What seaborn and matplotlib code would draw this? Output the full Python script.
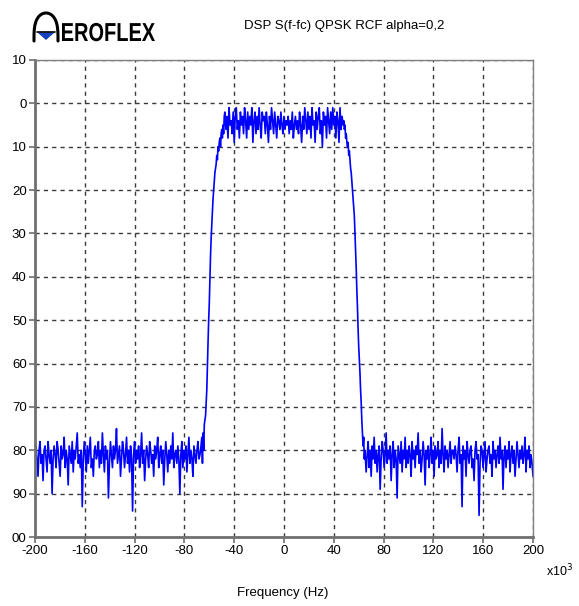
import numpy as np
import pandas as pd
import matplotlib
matplotlib.use("Agg")
import matplotlib.pyplot as plt
from matplotlib.lines import Line2D
from matplotlib.patches import Polygon, PathPatch
from matplotlib.textpath import TextPath
from matplotlib.font_manager import FontProperties
from matplotlib.transforms import Affine2D
import seaborn as sns

# ---------------- data (dB levels) ----------------
title = "DSP S(f-fc) QPSK RCF alpha=0,2"
x_ticks = [-200, -160, -120, -80, -40, 0, 40, 80, 120, 160, 200]
y_ticks = [10, 0, -10, -20, -30, -40, -50, -60, -70, -80, -90, -100]
y_tick_labels = ["10", "0", "10", "20", "30", "40", "50", "60", "70", "80", "90", "00"]

floor_left_range = (-200, -67.5)
floor_left_db = [
    -84, -79, -82, -86, -80, -78, -83, -81, -87, -80, -79, -82, -85, -78, -81, -83, -80, -90, -82, -79,
    -81, -84, -78, -80, -83, -86, -79, -82, -81, -77, -84, -80, -82, -88, -79, -81, -83, -78, -85, -80,
    -82, -79, -76, -83, -81, -84, -80, -93, -82, -78, -81, -85, -79, -83, -80, -77, -84, -82, -86, -80,
    -79, -82, -81, -78, -84, -80, -83, -76, -81, -85, -79, -82, -80, -91, -83, -78, -81, -84, -79, -82,
    -80, -75, -83, -81, -79, -86, -82, -78, -80, -84, -81, -77, -83, -80, -85, -79, -82, -94, -81, -78,
    -83, -80, -82, -79, -84, -81, -76, -83, -80, -87, -82, -79, -81, -84, -78, -80, -83, -81, -86, -79,
    -82, -80, -77, -84, -81, -79, -83, -80, -88, -82, -78, -81, -85, -80, -83, -79, -82, -76, -84, -81,
    -80, -83, -79, -82, -90, -81, -78, -84, -80, -82, -79, -85, -81, -77, -83, -80, -82, -86, -79, -81,
    -83, -80, -78, -82, -81,
]

rise_f = [-67, -66, -65.5, -65, -64.5, -64, -63, -62, -61.5, -61, -60.5, -60, -59.5, -59, -58.5, -58,
          -57.5, -57, -56.5, -56, -55.5, -55, -54.5, -54, -53.5, -53, -52.5, -52, -51.5, -51, -50.5,
          -50, -49.5, -49, -48.5, -48]
rise_db = [-80, -77, -83, -76, -80, -74, -72, -66, -60, -55, -50, -46, -40, -35, -31, -28, -25, -22,
           -20, -18, -16, -15, -14, -12, -13, -10, -11, -9, -8, -10, -7, -6, -8, -5, -7, -3]

pass_range = (-47.5, 47.5)
pass_db = [
    -2, -6, -3, -8, -1, -5, -4, -7, -2, -9, -3, -1, -6, -4, -8, -2, -5, -3, -7, -1,
    -4, -8, -2, -6, -3, -5, -1, -9, -4, -2, -7, -3, -6, -1, -5, -8, -2, -4, -3, -7,
    -2, -5, -9, -3, -6, -1, -4, -7, -2, -5, -8, -3, -4, -6, -2, -5, -7, -3, -6, -4,
    -5, -3, -7, -4, -6, -2, -8, -5, -3, -6, -4, -7, -2, -5, -9, -3, -6, -1, -4, -7,
    -2, -6, -3, -8, -1, -5, -4, -9, -2, -6, -3, -1, -7, -4, -10, -2, -5, -3, -8, -1,
    -4, -7, -2, -6, -1, -5, -3, -8, -2, -4, -9, -1, -6, -3, -5,
]

fall_f = [48, 48.5, 49, 49.5, 50, 50.5, 51, 51.5, 52, 52.5, 53, 53.5, 54, 54.5, 55, 55.5, 56, 56.5,
          57, 57.5, 58, 58.5, 59, 59.5, 60, 60.5, 61, 61.5, 62, 62.5, 63, 63.5, 64, 64.5, 65, 66]
fall_db = [-4, -6, -5, -8, -7, -9, -10, -9, -12, -11, -13, -15, -16, -18, -20, -22, -24, -26, -30,
           -34, -38, -43, -47, -52, -56, -59, -62, -66, -69, -73, -76, -79, -77, -82, -80, -85]

floor_right_range = (66.8, 200)
floor_right_db = [
    -81, -78, -84, -80, -86, -79, -82, -77, -83, -80, -85, -81, -79, -89, -82, -78, -80, -84, -81, -76,
    -83, -80, -82, -79, -87, -81, -78, -84, -80, -82, -91, -79, -81, -83, -78, -85, -80, -82, -77, -84,
    -80, -83, -79, -81, -86, -78, -82, -80, -84, -79, -81, -76, -83, -80, -85, -82, -78, -81, -88, -80,
    -82, -79, -84, -81, -77, -83, -80, -86, -79, -82, -81, -78, -84, -80, -83, -75, -81, -85, -79, -82,
    -80, -84, -81, -78, -83, -80, -80, -82, -79, -81, -85, -80, -77, -83, -81, -93, -79, -82, -80, -86,
    -78, -81, -83, -80, -79, -84, -82, -87, -80, -78, -82, -81, -95, -83, -79, -80, -84, -81, -78, -85,
    -82, -80, -79, -83, -81, -86, -78, -82, -80, -84, -81, -79, -83, -77, -82, -80, -89, -81, -79, -84,
    -80, -82, -78, -85, -81, -79, -83, -80, -86, -82, -78, -81, -84, -80, -82, -79, -83, -81, -77, -85,
    -80, -82, -79, -84, -81, -83, -86,
]

# ---------------- assemble ----------------
freq = np.concatenate([
    np.linspace(*floor_left_range, len(floor_left_db)),
    rise_f,
    np.linspace(*pass_range, len(pass_db)),
    fall_f,
    np.linspace(*floor_right_range, len(floor_right_db)),
])
level = np.concatenate([floor_left_db, rise_db, pass_db, fall_db, floor_right_db])
df = pd.DataFrame({"freq": freq, "level": level})

# ---------------- figure ----------------
W, H = 579, 606
sns.set_style("white")
plt.rcParams['font.family'] = ['Liberation Sans', 'DejaVu Sans']
fig = plt.figure(figsize=(W / 100, H / 100), dpi=100)
fig.patch.set_facecolor("white")

def fx(px):
    return px / W

def fy(py):
    return 1 - py / H

ax = fig.add_axes([fx(35), fy(537), fx(533) - fx(35), fy(60) - fy(537)])

sns.lineplot(data=df, x="freq", y="level", ax=ax, color="#0000FF", linewidth=1.2,
             estimator=None, sort=False)

ax.set_xlim(-200, 200)
ax.set_ylim(-100, 10)
ax.set_xticks(x_ticks)
ax.set_xticklabels([str(v) for v in x_ticks])
ax.set_yticks(y_ticks)
ax.set_yticklabels(y_tick_labels)
ax.set_xlabel("")
ax.set_ylabel("")

ax.grid(True, color="#3a3a3a", linestyle=(0, (3, 3)), linewidth=1.0)
ax.set_axisbelow(True)

for s in ["left", "bottom"]:
    ax.spines[s].set_color("#707070")
    ax.spines[s].set_linewidth(2)
for s in ["top", "right"]:
    ax.spines[s].set_color("#808080")
    ax.spines[s].set_linewidth(1)

ax.tick_params(axis="both", which="both", direction="out", length=4, width=1.2,
               color="#707070", labelsize=9.5, labelcolor="#000000", pad=2)
ax.tick_params(left=True, bottom=True)

# title, labels
fig.text(fx(344), fy(26), title, ha="center", va="center", fontsize=9.5, color="#000000")
fig.text(fx(283), fy(593), "Frequency (Hz)", ha="center", va="center", fontsize=9.5, color="#000000")
fig.text(fx(546), fy(571), r"x10$^3$", ha="left", va="center", fontsize=9, color="#000000")

# logo: "EROFLEX" condensed, plus arch-shaped "A"
tp = TextPath((0, 0), "EROFLEX", size=26,
              prop=FontProperties(family="Liberation Sans", weight="bold"))
ext = tp.get_extents()
sx = 93.0 / ext.width
logo_tr = (Affine2D().translate(-ext.x0, 0).scale(sx / 100, 1 / 100)
           .translate(62 / 100, (H - 41) / 100) + fig.dpi_scale_trans)
fig.add_artist(PathPatch(tp, facecolor="#000000", edgecolor="none", transform=logo_tr))

t = np.linspace(0, np.pi, 60)
arch_x = 46 + 12 * np.cos(t)
arch_y = 41 - 28 * np.sin(t) ** 0.6
fig.add_artist(Line2D(fx(arch_x), fy(arch_y), color="#000000", linewidth=2.2,
                      transform=fig.transFigure))
fig.add_artist(Line2D([fx(37), fx(55)], [fy(32), fy(32)], color="#000000", linewidth=1.2,
                      transform=fig.transFigure))
fig.add_artist(Polygon([[fx(37.5), fy(32.5)], [fx(54.5), fy(32.5)], [fx(46), fy(40)]],
                       closed=True, facecolor="#1040C0", edgecolor="none",
                       transform=fig.transFigure))

fig.savefig("out.png", dpi=100, facecolor="white")
